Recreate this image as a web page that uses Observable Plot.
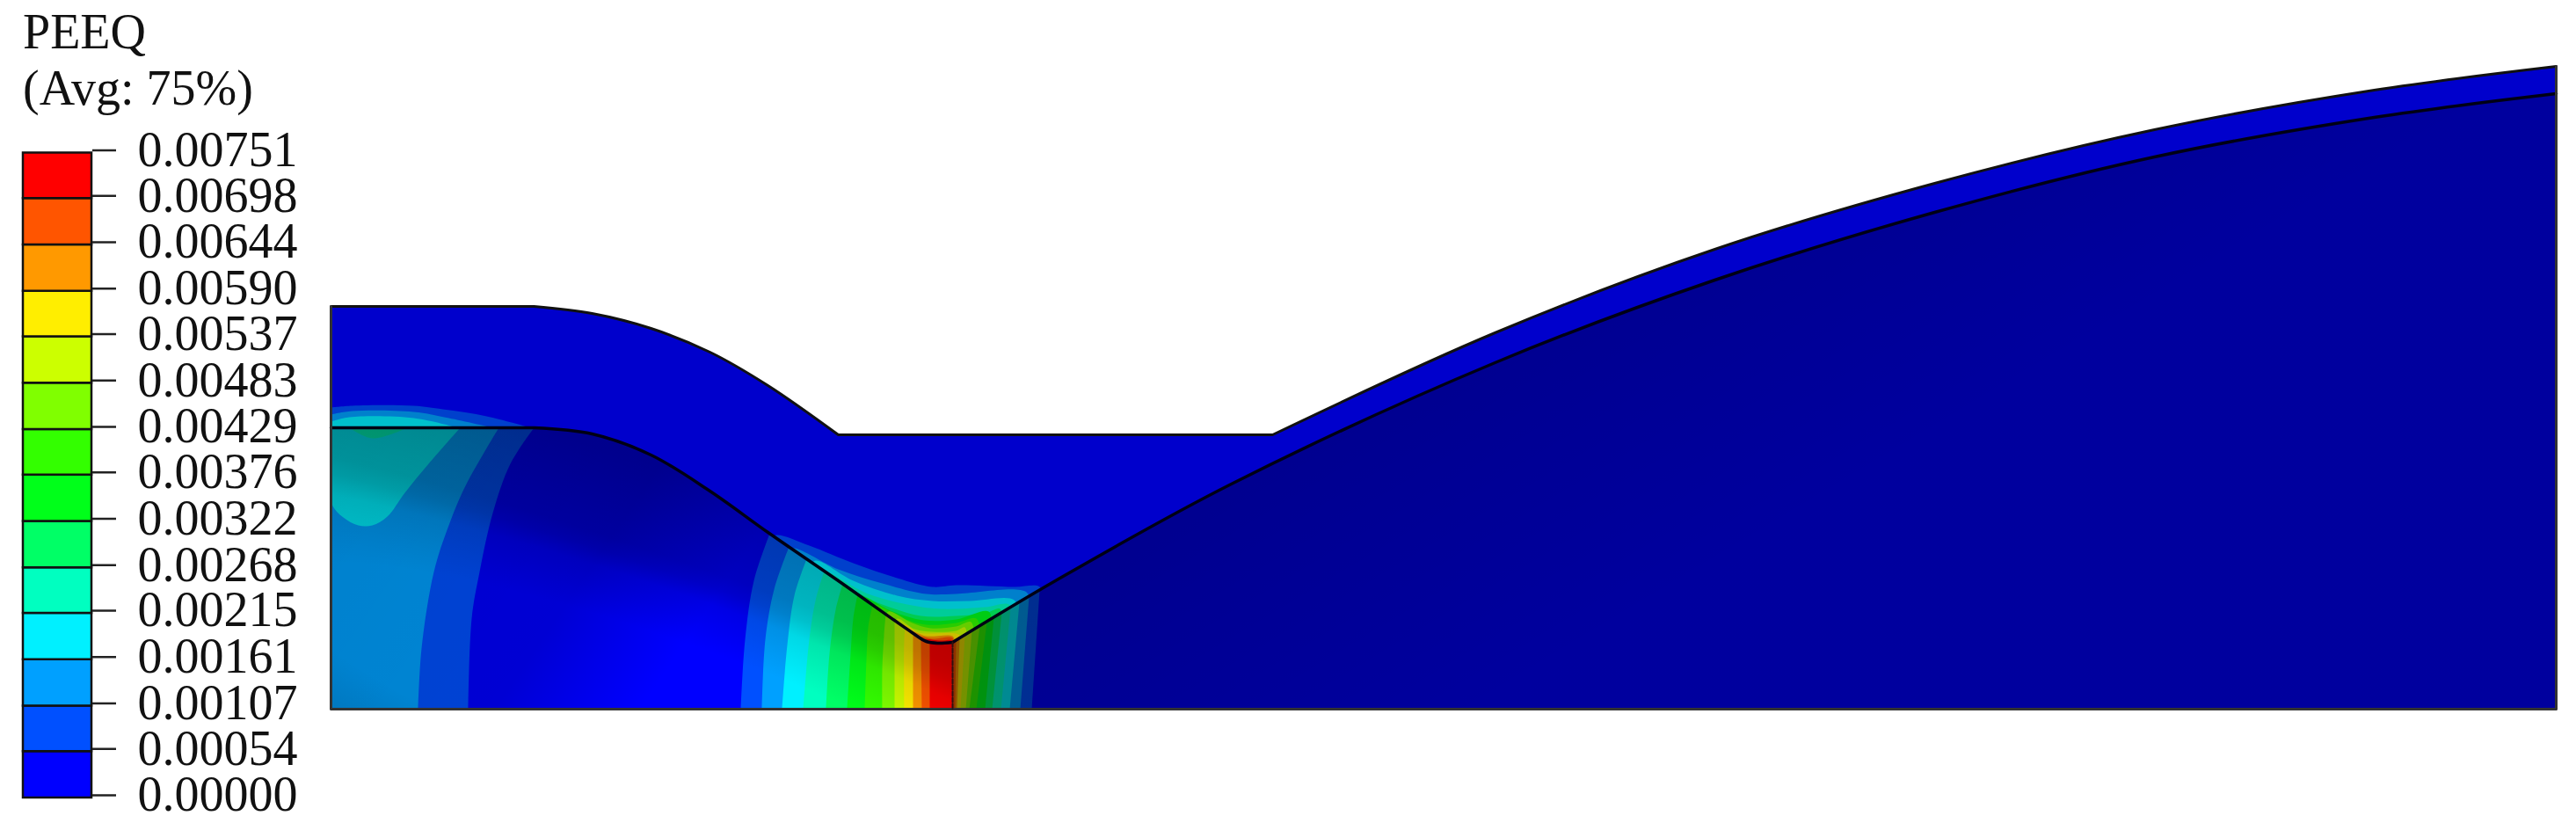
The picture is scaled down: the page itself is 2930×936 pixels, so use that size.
<!DOCTYPE html>
<html><head><meta charset="utf-8">
<script src="https://cdn.jsdelivr.net/npm/d3@7"></script>
<script src="https://cdn.jsdelivr.net/npm/@observablehq/plot@0.6"></script>
<style>
html,body{margin:0;padding:0;background:#fff}
#stage{position:relative;width:2930px;height:936px;overflow:hidden;filter:blur(.6px)}
#stage svg{position:absolute;left:0;top:0;background:transparent}
.t{position:absolute;left:26px;font:56px "Liberation Serif",serif;color:#111;white-space:pre;line-height:1}
</style></head><body><div id="stage"></div>
<script>
// Legend
const legendTitle = ["PEEQ", "(Avg: 75%)"];
const contourValues = [0.00000,0.00054,0.00107,0.00161,0.00215,0.00268,0.00322,0.00376,0.00429,0.00483,0.00537,0.00590,0.00644,0.00698,0.00751];
const contourColors = ["#0000ff","#0050ff","#00a0ff","#00f0ff","#00ffc0","#00ff66","#00ff1a","#33ff00","#80ff00","#ccff00","#ffee00","#ff9900","#ff5500","#ff0000"];

// Geometry outlines
const outerLine = [[376,348],[376,348],[607,348],[607,348],[673,356],[740,373],[807,400],[873,438],[953,494],[953,494],[1447,494],[1447,494],[1700,378],[1950,283],[2200,208],[2450,147],[2700,102],[2907,75],[2907,75]];
const interfaceLine = [[376,486],[376,486],[607,486],[607,486],[673,493],[740,517],[807,558],[873,605],[953,660],[1037,719],[1053,729],[1066,731],[1083,730],[1083,730],[1200,660],[1400,550],[1700,412],[1950,318],[2200,241],[2450,178],[2700,133],[2907,106],[2907,106]];

// Contour edges in the lower body, left of the notch (level index = position + 1)
const lowerLeftEdges = [
 [[842,806],[847,727],[857,660],[875]],
 [[866,806],[870,727],[880,670],[897]],
 [[889,806],[895,733],[903,677],[917]],
 [[913,806],[920,727],[927,683],[937]],
 [[939,806],[943,743],[950,693],[958]],
 [[963,806],[967,743],[970,703],[975]],
 [[983,806],[985,750],[987,713],[992]],
 [[1003,806],[1003,760],[1005,723],[1007]],
 [[1017,806],[1017,760],[1017,720],[1017]],
 [[1028,806],[1028,727],[1029]],
 [[1038,806],[1038,723],[1038]],
 [[1048,806],[1047]],
 [[1057,806],[1057]]
];
// Contour edges right of the notch, outermost (level 1) to innermost (level 12)
const lowerRightBottom = [1173,1160,1148,1138,1128,1120,1110,1102,1098,1092,1088,1086];
const lowerRightTop    = [1182,1170,1159,1149,1139,1130,1122,1114,1105,1097,1091,1087];

// Contour edges in the far-left lower body (levels 1, 2, 3, 4)
const leftEdgeLevel1 = [[532,806],[536,703],[545,650],[560,583],[580,527],[607,486]];
const leftEdgeLevel2 = [[475,806],[479,737],[493,650],[510,597],[530,550],[567,486]];
const leftBlobLevel3 = [[376,486],[376,486],[376,560],[378,575],[390,588],[407,597],[423,597],[440,587],[460,560],[487,527],[523,486],[523,486]];
const leftBlobLevel4 = [[397,486],[397,486],[423,498],[463,486],[463,486]];

// Contour edges in the upper shell, left crest (levels 1, 2, 3)
const crestEdges = [
 [[376,463],[400,461],[470,461],[503,465],[553,473],[603,486]],
 [[376,471],[400,467],[470,468],[510,475],[560,486]],
 [[376,479],[397,474],[470,475],[520,486]]
];
// Contour edges in the upper shell above the notch (levels 1 to 13)
const notchEdges = [
 [[875,612],[883,608],[920,620],[970,640],[1020,657],[1060,667],[1087,665],[1153,667],[1182,667],[1186,680]],
 [[895,625],[903,623],[953,647],[1003,663],[1053,675],[1087,675],[1167,673],[1172,690]],
 [[920,645],[927,637],[970,660],[1020,677],[1060,683],[1103,683],[1153,682],[1158,700]],
 [[928,650],[933,647],[987,675],[1037,688],[1070,692],[1120,690],[1147,687],[1150,700]],
 [[958,675],[963,670],[1003,687],[1047,700],[1087,700],[1120,697],[1137,692],[1140,710]],
 [[975,690],[978,678],[1015,695],[1050,705],[1087,704],[1124,695],[1128,710]],
 [[985,695],[993,687],[1027,703],[1053,710],[1087,708],[1110,703],[1115,720]],
 [[1005,705],[1010,695],[1037,708],[1058,714],[1087,712],[1104,707],[1108,725]],
 [[1015,715],[1020,703],[1040,715],[1060,718],[1087,717],[1097,713],[1100,730]],
 [[1022,718],[1028,710],[1045,719],[1087,720],[1095,725]],
 [[1028,725],[1033,717],[1053,723],[1083,723],[1086,730]],
 [[1042,730],[1045,724],[1060,726],[1083,725],[1083,735]],
 [[1047,732],[1047,727],[1070,728],[1083,728],[1083,735]]
];

const W = 2930, H = 936, botY = 806, notchX = 1083;
const stage = document.getElementById("stage");
const D = p => [p,p];

function yOn(x){
  const i = d3.bisector(d=>d[0]).right(interfaceLine,x);
  const a = interfaceLine[Math.max(i-1,0)], b = interfaceLine[Math.min(i,interfaceLine.length-1)];
  return b[0]===a[0] ? a[1] : a[1]+(b[1]-a[1])*(x-a[0])/(b[0]-a[0]);
}
const ifaceBetween = (x0,x1)=>interfaceLine.filter(p=>p[0]>x0&&p[0]<x1);

const shell = [...outerLine, ...interfaceLine.slice().reverse()];
const lowerAll = [...interfaceLine,...D([2907,botY]),...D([376,botY])];
const lowerLeft = [...ifaceBetween(0,notchX),...D([notchX,730]),...D([notchX,botY]),...D([376,botY])];
const lowerRight = [...D([notchX,730]),...ifaceBetween(notchX,3000),...D([2907,106]),...D([2907,botY]),...D([notchX,botY])];

function leftBand(edge){
  const e = edge.slice(0,-1), xt = edge[edge.length-1][0];
  return [...D(e[0]),...e.slice(1),...D([xt,yOn(xt)]),...ifaceBetween(xt,notchX),...D([notchX,730]),...D([notchX,botY])];
}
function rightBand(xb,xt){
  return [...D([notchX,botY]),...D([xb,botY]),...D([xt,yOn(xt)]),...ifaceBetween(notchX,xt).reverse(),...D([notchX,730])];
}
const spill = (e,deep) => [...D(e[0]),...e.slice(1),...D(e[e.length-1]),...D([e[e.length-1][0],deep]),...D([e[0][0],deep])];
const leftOf = e => { const r = e.slice().reverse(); return [...D([376,486]),...D(r[0]),...r.slice(1),...D(e[0]),...D([376,botY])]; };

function poly(points,fill,extra={}){
  return Plot.line(points,{x:d=>d[0],y:d=>d[1],curve:"catmull-rom",fill,stroke:"none",clip:"frame",...extra});
}
const edgeLine = (points,stroke,strokeWidth,extra={}) =>
  Plot.line(points,{x:d=>d[0],y:d=>d[1],curve:"catmull-rom",stroke,strokeWidth,...extra});

const defs = () => {
  const g = d3.create("svg:defs");
  const stops = (el,arr)=>arr.forEach(([o,a])=>el.append("stop").attr("offset",o).attr("stop-color","#000").attr("stop-opacity",a));
  stops(g.append("linearGradient").attr("id","leftFade").attr("gradientUnits","userSpaceOnUse")
    .attr("x1",376).attr("y1",500).attr("x2",760).attr("y2",760),[[0,.2],[.4,.18],[.7,.17],[1,0]]);
  stops(g.append("radialGradient").attr("id","topFade").attr("gradientUnits","userSpaceOnUse")
    .attr("cx",0).attr("cy",0).attr("r",1).attr("gradientTransform","translate(780,830) rotate(20) scale(1440,272)"),
    [[0,0],[.34,0],[.53,.1],[.6,.2],[.66,.25],[1,.33]]);
  stops(g.append("linearGradient").attr("id","rightFade").attr("gradientUnits","userSpaceOnUse")
    .attr("x1",1400).attr("y1",300).attr("x2",1700).attr("y2",800),[[0,.47],[1,.38]]);
  return g.node();
};

const marks = [
  defs,
  poly(shell,contourColors[0]),
  ...notchEdges.map((e,i)=>poly(spill(e,800),contourColors[i+1])),
  ...crestEdges.map((e,i)=>poly(spill(e,500),contourColors[i+1])),
  poly(shell,"#000",{fillOpacity:.2}),
  poly(lowerAll,contourColors[0]),
  poly(leftOf(leftEdgeLevel1),contourColors[1]),
  poly(leftOf(leftEdgeLevel2),contourColors[2]),
  poly(leftBlobLevel3,contourColors[3]),
  poly(leftBlobLevel4,contourColors[4]),
  ...lowerLeftEdges.map((e,i)=>poly(leftBand(e),contourColors[i+1])),
  ...lowerRightBottom.map((b,i)=>poly(rightBand(b,lowerRightTop[i]),contourColors[i+1])),
  poly(lowerLeft,"url(#leftFade)"),
  poly(lowerLeft,"url(#topFade)"),
  poly(lowerRight,"url(#rightFade)"),
  edgeLine(outerLine,"#111",3),
  edgeLine(interfaceLine,"#000014",3.5),
  Plot.line([[376,348],[376,botY],[2907,botY],[2907,75]],{x:d=>d[0],y:d=>d[1],stroke:"#333",strokeWidth:3}),
  Plot.line([[notchX,730],[notchX,botY]],{x:d=>d[0],y:d=>d[1],stroke:"#301010",strokeWidth:2,strokeDasharray:"5 2"})
];

const modelPlot = Plot.plot({
  width:W,height:H,marginLeft:0,marginRight:0,marginTop:0,marginBottom:H-botY-2,
  x:{domain:[0,W],range:[0,W],axis:null},
  y:{domain:[botY+2,0],range:[botY+2,0],axis:null},
  marks
});
stage.appendChild(modelPlot);

const bands = contourColors.map((c,i)=>({lo:contourValues[i],hi:contourValues[i+1],c}));
const legendPlot = Plot.plot({
  width:W,height:H,marginLeft:26,marginRight:W-104,marginTop:173.5,marginBottom:H-907,
  x:{domain:[0,1],axis:null},
  y:{domain:[0,0.00751],range:[907,173.5],axis:null},
  marks:[
    Plot.rect(bands,{x1:0,x2:1,y1:"lo",y2:"hi",fill:"c",stroke:"#111",strokeWidth:2.5}),
    Plot.axisY(contourValues,{anchor:"right",label:null,tickSize:27,tickPadding:25,
      tickFormat:d3.format(".5f"),fontSize:56,fontFamily:"Liberation Serif",fill:"#111",stroke:"#222",strokeWidth:2.5,dy:-3})
  ],
  style:{overflow:"visible"}
});
stage.appendChild(legendPlot);

legendTitle.forEach((t,i)=>{
  const d = document.createElement("div");
  d.className="t"; d.textContent=t; d.style.top=(i?72:8)+"px";
  stage.appendChild(d);
});
</script></body></html>
